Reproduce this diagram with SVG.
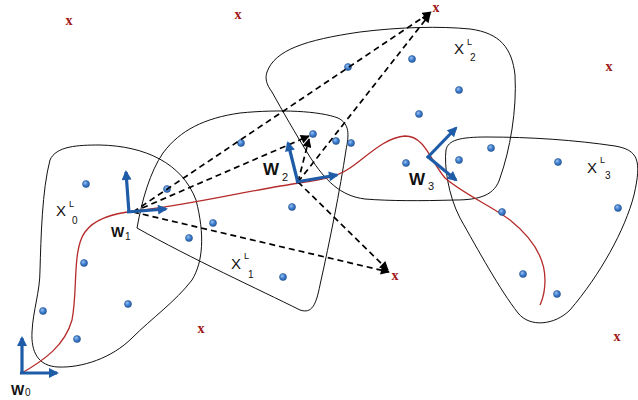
<svg xmlns="http://www.w3.org/2000/svg" width="638" height="400" viewBox="0 0 638 400">
<style>
.region{fill:none;stroke:#111;stroke-width:1}
.traj{fill:none;stroke:#b52a2a;stroke-width:1.3}
.dash{fill:none;stroke:#000;stroke-width:1.7;stroke-dasharray:6 4;marker-end:url(#ah)}
.axis{fill:none;stroke:#1f5ca8;stroke-width:3.2;marker-end:url(#bh)}
.dot{fill:url(#dg);stroke:#24508a;stroke-width:0.6}
.xm{font-family:"Liberation Serif",serif;font-weight:bold;font-size:14px;fill:#a01515;text-anchor:middle}
.wl{font-family:"Liberation Sans",Arial,sans-serif;fill:#111}
.xl{font-family:"Liberation Sans",Arial,sans-serif;fill:#111}
</style>
<defs>
<radialGradient id="dg" cx="0.38" cy="0.35" r="0.7">
<stop offset="0" stop-color="#9cc4f2"/>
<stop offset="0.5" stop-color="#3f7fd0"/>
<stop offset="1" stop-color="#2a5ea8"/>
</radialGradient>
<marker id="ah" viewBox="0 0 10 10" refX="9" refY="5" markerWidth="10" markerHeight="9" markerUnits="userSpaceOnUse" orient="auto">
<path d="M0,0 L10,5 L0,10 z" fill="#000"/>
</marker>
<marker id="bh" viewBox="0 0 10 10" refX="8" refY="5" markerWidth="11" markerHeight="10" markerUnits="userSpaceOnUse" orient="auto">
<path d="M0,0 L10,5 L0,10 z" fill="#1f5ca8"/>
</marker>
</defs>
<rect width="638" height="400" fill="#fff"/>

<g id="region-X0">
<path class="region" d="M50,160 C56,146 78,145 100,145 C145,146 182,163 196,200 C205,235 203,262 192,280 C175,302 152,318 132,338 C112,358 82,368 58,367 C38,366 31,352 32,332 C33,310 40,292 40,270 C41,238 42,190 50,160 Z"/>
<text class="xl" x="56" y="216" font-size="15">X</text><text class="xl" x="69" y="207" font-size="9">L</text><text class="xl" x="72" y="224" font-size="10">0</text>
</g>
<g id="region-X1">
<path class="region" d="M137,228 C142,200 150,172 163,153 C180,130 205,118 240,113 C280,109 320,111 338,118 C350,124 349,135 346,150 C340,190 330,240 320,285 C316,305 312,314 300,310 C260,290 190,258 137,228 Z"/>
<text class="xl" x="231" y="269" font-size="15">X</text><text class="xl" x="244" y="259" font-size="9">L</text><text class="xl" x="248" y="278" font-size="10">1</text>
</g>
<g id="region-X2">
<path class="region" d="M267,72 C275,50 305,40 360,32 C400,27 440,26 470,29 C500,33 512,48 515,75 C517,110 510,150 500,178 C495,195 480,200 455,200 C420,201 390,201 365,199 C340,196 325,180 310,157 C295,133 282,110 272,92 C266,84 265,78 267,72 Z"/>
<text class="xl" x="454" y="54" font-size="15">X</text><text class="xl" x="467" y="45" font-size="9">L</text><text class="xl" x="470" y="61" font-size="10">2</text>
</g>
<g id="region-X3">
<path class="region" d="M446,150 C448,140 460,137 487,137 C530,137 575,140 615,146 C638,150 642,160 634,195 C625,230 600,275 570,310 C555,325 530,328 518,313 C500,290 478,250 460,218 C448,195 444,165 446,150 Z"/>
<text class="xl" x="587" y="173" font-size="15">X</text><text class="xl" x="600" y="163" font-size="9">L</text><text class="xl" x="605" y="179" font-size="10">3</text>
</g>

<path id="trajectory" class="traj" d="M20,374 C45,360 65,345 72,320 C78,290 72,250 85,232 C95,218 115,213 135,211 C190,205 250,190 300,183 C320,180 335,178 350,168 C365,158 385,137 405,136 C425,136 430,160 445,178 C465,195 490,205 510,220 C535,240 545,260 545,280 C545,295 542,300 540,305"/>

<g id="dots">
<circle class="dot" cx="86" cy="184" r="3.5"/>
<circle class="dot" cx="167" cy="189" r="3.5"/>
<circle class="dot" cx="213" cy="223" r="3.5"/>
<circle class="dot" cx="189" cy="238" r="3.5"/>
<circle class="dot" cx="84" cy="263" r="3.5"/>
<circle class="dot" cx="43" cy="311" r="3.5"/>
<circle class="dot" cx="128" cy="304" r="3.5"/>
<circle class="dot" cx="77" cy="339" r="3.5"/>
<circle class="dot" cx="241" cy="143" r="3.5"/>
<circle class="dot" cx="313" cy="134" r="3.5"/>
<circle class="dot" cx="336" cy="141" r="3.5"/>
<circle class="dot" cx="351" cy="143" r="3.5"/>
<circle class="dot" cx="348" cy="67" r="3.5"/>
<circle class="dot" cx="412" cy="59" r="3.5"/>
<circle class="dot" cx="459" cy="90" r="3.5"/>
<circle class="dot" cx="419" cy="114" r="3.5"/>
<circle class="dot" cx="406" cy="163" r="3.5"/>
<circle class="dot" cx="459" cy="160" r="3.5"/>
<circle class="dot" cx="491" cy="148" r="3.5"/>
<circle class="dot" cx="292" cy="207" r="3.5"/>
<circle class="dot" cx="283" cy="277" r="3.5"/>
<circle class="dot" cx="558" cy="162" r="3.5"/>
<circle class="dot" cx="618" cy="208" r="3.5"/>
<circle class="dot" cx="502" cy="212" r="3.5"/>
<circle class="dot" cx="523" cy="274" r="3.5"/>
<circle class="dot" cx="557" cy="294" r="3.5"/>
</g>

<g id="targets">
<text class="xm" x="69" y="25">x</text>
<text class="xm" x="238" y="19">x</text>
<text class="xm" x="436" y="12">x</text>
<text class="xm" x="609" y="71">x</text>
<text class="xm" x="201" y="333">x</text>
<text class="xm" x="617" y="341">x</text>
<text class="xm" x="395" y="280">x</text>
</g>

<g id="connectors">
<line class="dash" x1="133" y1="212" x2="431" y2="12"/>
<line class="dash" x1="133" y1="212" x2="309" y2="136"/>
<line class="dash" x1="133" y1="212" x2="389" y2="272"/>
<line class="dash" x1="298" y1="182" x2="430" y2="14"/>
<line class="dash" x1="298" y1="182" x2="309" y2="139"/>
<line class="dash" x1="298" y1="182" x2="388" y2="270"/>
</g>

<g id="frame-W0">
<line class="axis" x1="22" y1="374" x2="22" y2="338"/>
<line class="axis" x1="20" y1="373" x2="57" y2="373"/>
<text class="wl" x="11" y="395" font-size="14" font-weight="bold">W</text><text class="wl" x="25" y="396" font-size="10">0</text>
</g>
<g id="frame-W1">
<line class="axis" x1="129" y1="213" x2="126" y2="172"/>
<line class="axis" x1="127" y1="212" x2="166" y2="209"/>
<text class="wl" x="111" y="237" font-size="14" font-weight="bold">W</text><text class="wl" x="125" y="240" font-size="10">1</text>
</g>
<g id="frame-W2">
<line class="axis" x1="298" y1="183" x2="288" y2="143"/>
<line class="axis" x1="296" y1="182" x2="337" y2="175"/>
<text class="wl" x="263" y="175" font-size="17" font-weight="bold">W</text><text class="wl" x="282" y="181" font-size="11">2</text>
</g>
<g id="frame-W3">
<line class="axis" x1="427" y1="158" x2="456" y2="128"/>
<line class="axis" x1="427" y1="156" x2="456" y2="180"/>
<text class="wl" x="409" y="185" font-size="17" font-weight="bold">W</text><text class="wl" x="428" y="190" font-size="11">3</text>
</g>
</svg>
